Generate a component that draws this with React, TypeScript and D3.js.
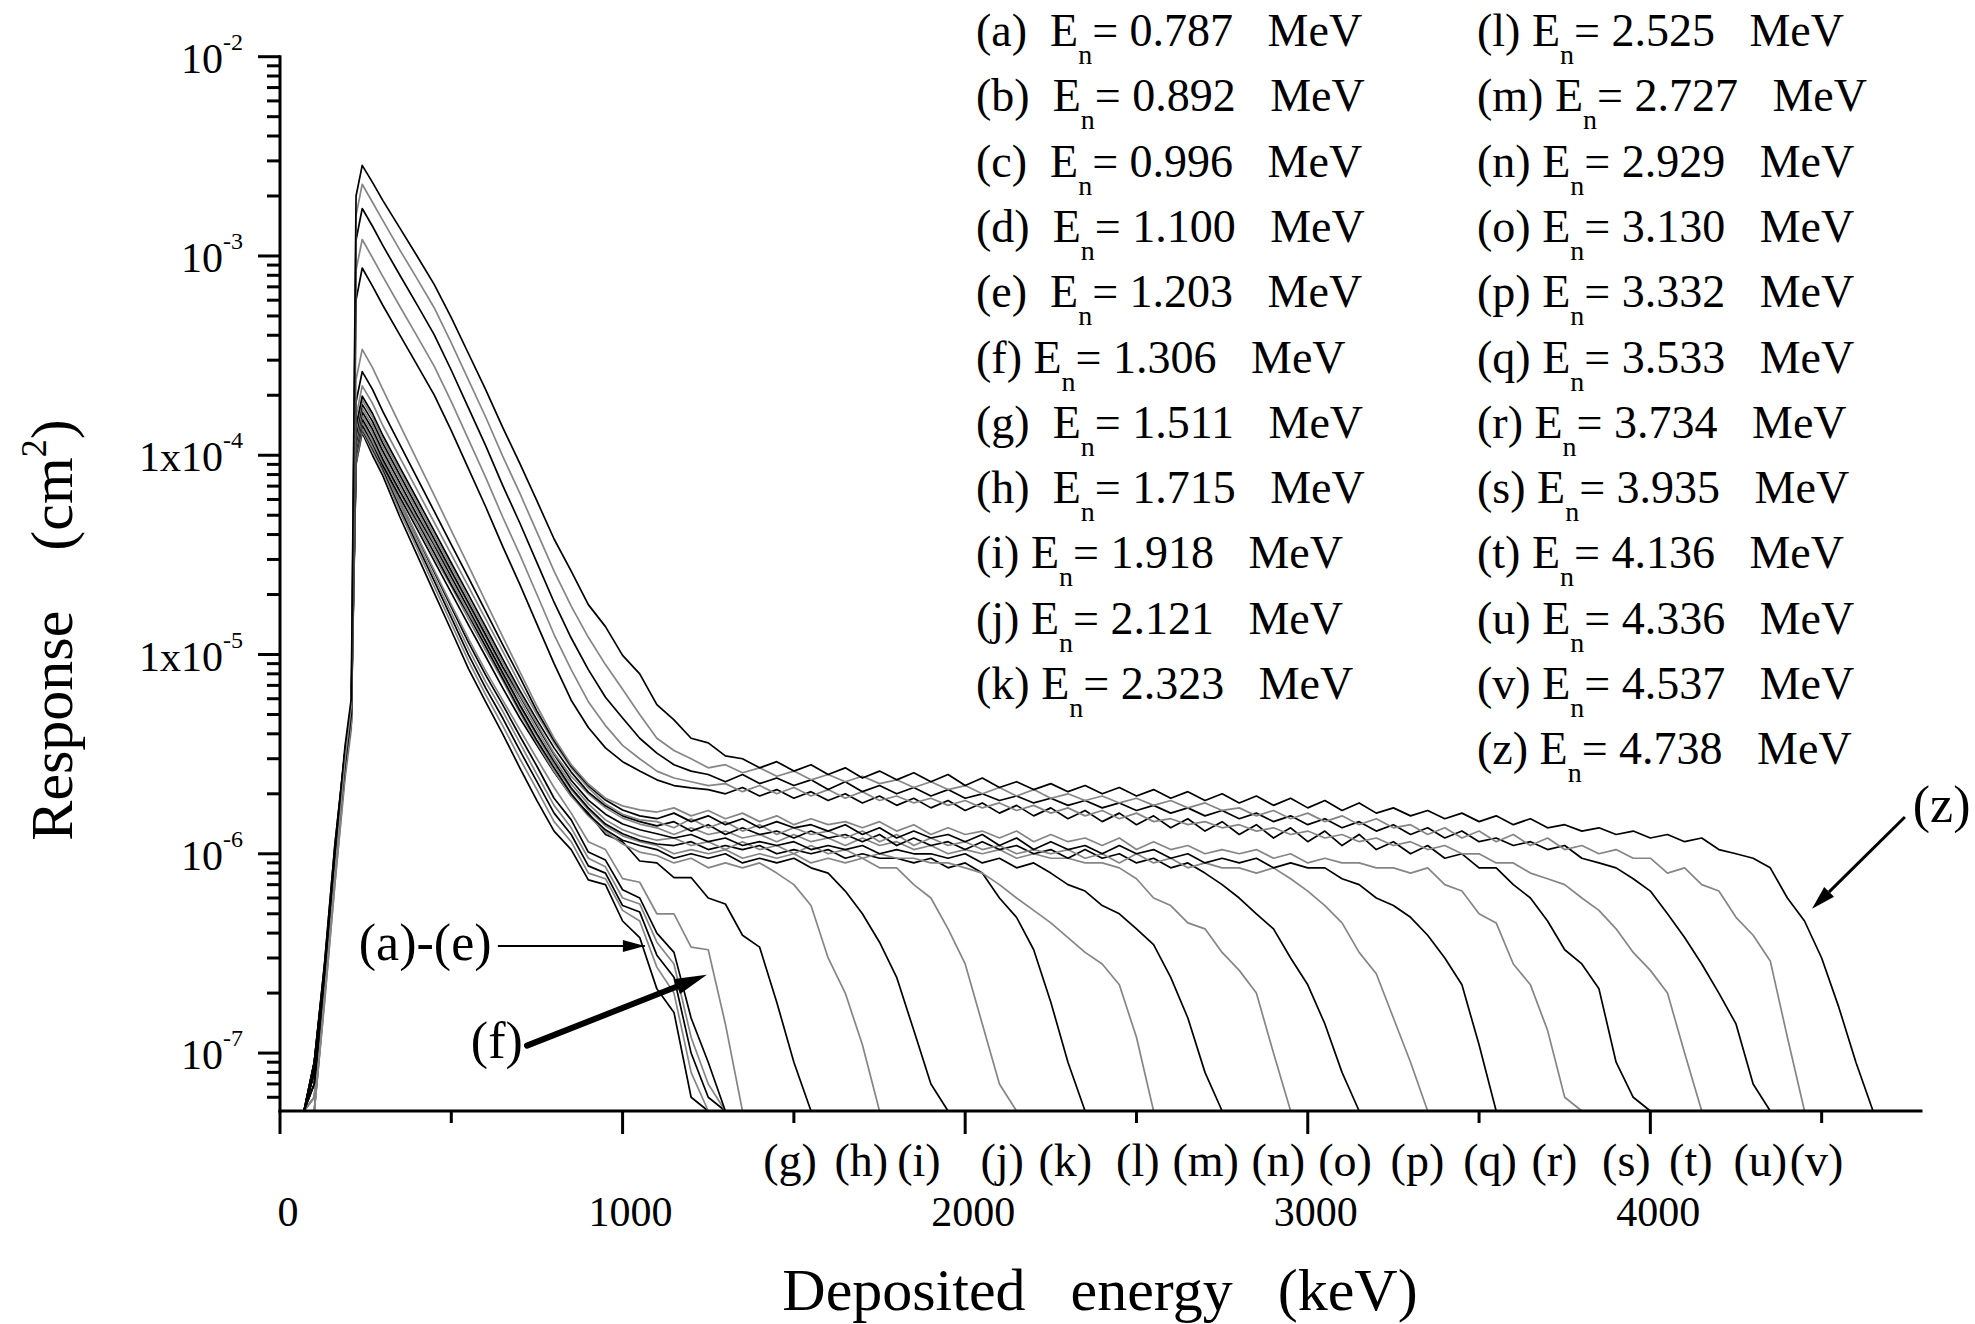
import React from "react";
import * as d3 from "d3";

// Response values below are in units of 1e-7 cm^2
const UNIT = 1e-7;

// Deposited-energy channels (keV) shared by every series
const ENERGY_KEV = [
  70, 100, 130, 160, 190, 208, 222, 240, 270,
  300, 350, 400, 450, 500, 550, 600, 650, 700, 750,
  800, 850, 900, 950, 1000, 1050, 1100, 1150, 1200, 1250,
  1300, 1350, 1400, 1450, 1500, 1550, 1600, 1650, 1700, 1750,
  1800, 1850, 1900, 1950, 2000, 2050, 2100, 2150, 2200, 2250,
  2300, 2350, 2400, 2450, 2500, 2550, 2600, 2650, 2700, 2750,
  2800, 2850, 2900, 2950, 3000, 3050, 3100, 3150, 3200, 3250,
  3300, 3350, 3400, 3450, 3500, 3550, 3600, 3650, 3700, 3750,
  3800, 3850, 3900, 3950, 4000, 4050, 4100, 4150, 4200, 4250,
  4300, 4350, 4400, 4450, 4500, 4550, 4600, 4650, 4700, 4750,
  4800,
];

const resp_a = [0, 0.9, 2.8, 11, 33, 55, 900, 1300, 1000,
  790, 490, 316, 204, 132, 85, 58, 40, 27, 18.5,
  13, 10.5, 7.4, 7, 4.6, 3.8, 2.1, 1.6, 0.6, 0];
const resp_b = [0, 0.6, 2.1, 8, 27, 46, 920, 1320, 1050,
  830, 520, 340, 220, 143, 93, 63, 44, 30, 21,
  14.5, 11.5, 8, 7.5, 5.2, 4.6, 2.7, 2, 0.8, 0];
const resp_c = [0, 0.9, 2.7, 10, 31, 52, 950, 1350, 1080,
  860, 545, 357, 234, 153, 100, 68, 48, 33, 23,
  16, 12.5, 8.7, 8, 5.5, 5.1, 3.1, 2.4, 1, 0.6,
  0];
const resp_d = [0, 0.5, 1.9, 7.5, 26, 45, 960, 1370, 1100,
  880, 565, 372, 245, 162, 107, 73, 52, 36, 25,
  17.5, 13.5, 9.5, 8.6, 6, 5.6, 3.6, 2.8, 1.2, 0.7,
  0];
const resp_e = [0, 0.8, 2.4, 9, 29, 50, 980, 1400, 1130,
  910, 590, 392, 260, 173, 115, 79, 56, 39, 27.5,
  19, 14.8, 10.2, 9.3, 6.6, 6, 4, 3.2, 1.5, 0.9,
  0];
const resp_f = [0, 0.6, 2, 8, 27, 46, 960, 1380, 1120,
  900, 590, 395, 265, 178, 120, 83, 59, 42, 30,
  21.5, 16, 11.5, 10.5, 7.5, 7.2, 5, 5, 3.4, 3.3,
  1.4, 0];
const resp_g = [0, 0.9, 2.6, 10, 32, 54, 1000, 1420, 1150,
  891, 617, 427, 295, 204, 141, 98, 68, 48, 35,
  25.7, 19.5, 16, 12.5, 11.5, 9.2, 9, 7.6, 7.6, 6,
  5.6, 3.9, 3.4, 1.8, 0.9, 0];
const resp_h = [0, 0.6, 2.1, 8, 27, 46, 1030, 1470, 1175,
  923, 646, 447, 309, 219, 151, 105, 74, 51, 36,
  26, 19.5, 15.5, 12.9, 11.2, 10.2, 9.8, 9, 9.5, 8.5,
  9, 8.5, 9, 8, 7, 5.5, 3, 2, 1.1, 0];
const resp_i = [0, 0.8, 2.5, 10, 31, 52, 1060, 1520, 1230,
  955, 661, 468, 324, 224, 158, 110, 76, 52.5, 37,
  27, 20, 15.8, 13.2, 11.7, 11, 10.5, 9.5, 10, 9.5,
  10, 9, 9.5, 9, 9.5, 8.5, 8, 6.5, 5, 3.6,
  2.4, 1.3, 0.7, 0];
const resp_j = [0, 0.5, 1.9, 7.5, 26, 45, 1100, 1580, 1290,
  1000, 692, 479, 339, 234, 162, 115, 79, 55, 39,
  28, 21, 16.6, 13.8, 12.3, 11.5, 11, 10, 10.5, 10,
  10.5, 9.5, 10, 9.5, 10, 9, 9.5, 9, 9.5, 8.5,
  8.5, 7, 6, 4.2, 2.8, 1.4, 0.7, 0];
const resp_k = [0, 0.7, 2.3, 9, 30, 50, 1150, 1650, 1350,
  1050, 725, 500, 355, 245, 170, 117, 81, 56, 40,
  29, 21.4, 17, 14.1, 12.6, 11.7, 11.2, 11, 11.5, 10.5,
  11, 10.5, 11, 10, 10.5, 10, 10.5, 9.5, 10, 9.5,
  9.5, 9, 9.5, 8.5, 9, 8, 6, 4.8, 3.3, 1.8,
  0.9, 0];
const resp_l = [0, 0.6, 2, 8, 27, 46, 1200, 1720, 1410,
  1100, 760, 525, 363, 257, 178, 123, 85, 59, 42,
  30, 22.4, 17.8, 14.8, 13.2, 12.3, 11.7, 12, 11, 11.5,
  10.5, 11.5, 10.5, 11, 10, 11, 10, 10.5, 9.5, 10,
  9.5, 9.5, 9, 9, 8.5, 8, 7, 6, 5.2, 4.5,
  3.8, 3.2, 2.8, 2.2, 1.2, 0];
const resp_m = [0, 0.8, 2.4, 9, 29, 50, 1260, 1800, 1480,
  1150, 795, 550, 380, 263, 182, 126, 87, 62, 44,
  31.6, 23.4, 18.6, 15.8, 14.1, 13.2, 12.6, 12, 12.5, 11.5,
  12, 11, 11.5, 11, 11.5, 10.5, 11, 10.5, 11, 10,
  10.5, 10, 10, 9.5, 10, 9, 9.5, 8.5, 9, 8,
  7, 6.5, 5.5, 5, 4.2, 3.5, 2.4, 1.5, 0.8, 0];
const resp_n = [0, 0.6, 2, 8, 28, 48, 1330, 1900, 1550,
  1200, 832, 575, 398, 275, 190, 132, 91, 63, 45,
  32, 24.5, 20, 17, 15.1, 14.1, 13.5, 12.5, 13.5, 12.5,
  13, 12, 12.5, 11.5, 12.5, 11.5, 12, 11, 12, 11,
  11.5, 10.5, 11, 10, 10.5, 10, 10.5, 9.5, 10, 9.5,
  9.5, 9, 9, 8.5, 7.5, 6, 5.5, 4.5, 4.2, 3.2,
  2.6, 2, 1, 0];
const resp_o = [0, 0.9, 2.8, 11, 33, 55, 1400, 1980, 1620,
  1260, 870, 603, 417, 288, 200, 138, 95, 66, 47,
  34, 25.7, 20.4, 17.4, 15.5, 14.5, 13.8, 14.5, 13, 14,
  12.5, 13.5, 12.5, 13, 12, 13, 12, 12.5, 11.5, 12.5,
  11, 12, 11, 11.5, 10.5, 11.5, 10.5, 11, 10, 10.5,
  9.5, 10.5, 9.5, 10, 9, 9.5, 8.5, 9, 8, 7,
  6, 5, 4.2, 3, 2.2, 1.4, 0.8, 0];
const resp_p = [0, 0.5, 1.8, 7, 24, 42, 1560, 2230, 1820,
  1410, 973, 670, 461, 318, 219, 151, 104, 71, 50,
  36, 27, 21.4, 17.8, 15.8, 14.8, 14.5, 13.5, 15, 13.5,
  14.5, 13, 14, 12.5, 13.5, 12.5, 13, 12, 13, 11.5,
  12.5, 11, 12, 11, 11.5, 10.5, 11, 10, 10.5, 10,
  10.5, 9.5, 10, 9, 10, 9, 9.5, 8.5, 9, 8.5,
  8.5, 8, 8.5, 7.5, 6.5, 5.5, 4.5, 3.2, 2.5, 1.5,
  0.9, 0];
const resp_q = [0, 0.8, 2.6, 10, 32, 50, 1850, 2630, 2140,
  1660, 1130, 770, 524, 356, 243, 165, 112, 77, 52,
  37, 27.5, 22, 18.6, 16.6, 15.5, 15, 16, 14.5, 15.5,
  14, 15, 13.5, 14.5, 13.5, 14, 13, 14, 12.5, 13.5,
  12, 13, 12, 12.5, 11.5, 12.5, 11, 12, 10.5, 11.5,
  10.5, 11, 10, 11, 10, 10.5, 9.5, 10, 9, 9.5,
  9, 9.5, 8.5, 9, 8.5, 8.5, 7.5, 7, 6, 5.5,
  4.8, 3.9, 3, 2.2, 1.1, 0];
const resp_r = [0, 0.6, 2.2, 9, 30, 50, 2400, 3400, 2750,
  2140, 1420, 946, 630, 419, 279, 185, 123, 82, 55,
  38, 28, 22.4, 19, 17.4, 16.6, 16.2, 17, 15.5, 16.5,
  15, 16, 14.5, 15.5, 14, 15, 14, 14.5, 13.5, 14.5,
  13, 14, 12.5, 13.5, 12.5, 13, 12, 13, 11.5, 12.5,
  11.5, 12, 11, 12, 10.5, 11.5, 10.5, 11, 10, 10.5,
  10, 10.5, 9.5, 10, 9, 9.5, 9, 9, 8.5, 8.5,
  8, 8.5, 7, 6.5, 5, 4.5, 2.8, 2.2, 1.3, 0.6,
  0];
const resp_s = [0, 0.7, 2, 8, 26, 45, 6000, 8700, 7060,
  5660, 4010, 2840, 2010, 1330, 857, 553, 349, 225, 142,
  90, 59, 43, 34, 29, 26, 23.5, 22, 21.4, 21,
  20, 21.5, 19.5, 21, 19, 20.5, 18.5, 20, 18, 19.5,
  17.5, 19, 17, 18.5, 16.5, 18, 16, 17.5, 15.5, 17,
  15, 16.5, 14.5, 16, 14, 15.5, 13.5, 15, 13, 14.5,
  12.5, 14, 12, 13.5, 11.5, 13, 11, 12.5, 10.5, 11.5,
  10, 11, 9.5, 10, 8.5, 8.5, 7, 6, 4.6, 3.3,
  2.8, 2.1, 0.9, 0.6, 0];
const resp_t = [0, 0.5, 1.8, 7, 25, 45, 8500, 12100, 9800,
  7900, 5580, 3960, 2800, 1860, 1200, 776, 490, 317, 200,
  126, 84, 58, 44, 35, 30, 26, 24, 23, 22,
  22.5, 20.5, 22, 20, 21.5, 19.5, 21, 19, 20.5, 18.5,
  19.5, 18, 19, 17.5, 18.5, 17, 18, 16.5, 17.5, 16,
  17, 15.5, 16.5, 15, 16, 14.5, 15, 14, 14.5, 13.5,
  14, 13, 13.5, 12.5, 13, 12, 12.5, 11.5, 12, 11,
  11.5, 10.5, 11, 10, 10, 9, 9, 8, 7.5, 7,
  6, 5.2, 4.2, 3.2, 2.6, 2, 1, 0];
const resp_u = [0, 0.8, 2.2, 9, 28, 50, 12000, 17300, 14100,
  11300, 8000, 5700, 4030, 2670, 1730, 1120, 706, 457, 289,
  183, 121, 84, 61, 48, 38, 32, 28, 26, 25,
  23, 25, 22.5, 24, 22, 23.5, 21, 23, 20.5, 22,
  20, 21.5, 19.5, 21, 19, 20, 18.5, 19.5, 18, 19,
  17.5, 18.5, 17, 18, 16.5, 17.5, 16, 17, 15.5, 16.5,
  15, 16, 14.5, 15.5, 14, 15, 13.5, 14.5, 13, 14,
  12.5, 13.5, 12, 13, 11.5, 12, 11, 11.5, 10.5, 11,
  9.5, 9, 8.5, 7.5, 6.5, 5, 3.8, 2.8, 2, 1.4,
  0.7, 0];
const resp_v = [0, 0.5, 2, 8, 30, 55, 16000, 22900, 18600,
  15100, 10700, 7700, 5500, 3660, 2390, 1560, 990, 645, 411,
  262, 175, 122, 89, 67, 50, 38, 33, 30, 27,
  28, 25.5, 27, 24.5, 26, 23.5, 25, 23, 24.5, 22.5,
  23.5, 21.5, 23, 21, 22, 20, 21.5, 19.5, 21, 19,
  20, 18.5, 19.5, 18, 19, 17.5, 18.5, 17, 18, 16.5,
  17, 15.5, 16.5, 15, 16, 14.5, 15.5, 14, 15, 13.5,
  14, 12.5, 13.5, 12, 13, 11.5, 12.5, 11, 12, 10.5,
  11, 10, 10.5, 9.5, 9.5, 8, 8.5, 7, 6.5, 4.8,
  3.9, 2.9, 1.2, 0.5, 0];
const resp_z = [0, 0.7, 2.5, 10, 35, 60, 20000, 28500, 23400,
  19000, 13800, 10000, 7200, 4900, 3240, 2140, 1380, 910, 590,
  380, 262, 178, 138, 99, 80, 56, 47, 38, 36,
  31, 30, 27, 29, 26, 28, 25, 27, 24, 26,
  23.5, 25.5, 23, 25, 22, 24, 21.5, 23, 21, 22.5,
  20.5, 22, 20, 21.5, 19.5, 21, 19, 20.5, 18.5, 20,
  18, 19.5, 17.5, 19, 17, 18.5, 16.5, 18, 16, 17,
  15.5, 16.5, 15, 16, 14.5, 15.5, 14, 15, 13.5, 14,
  13, 13.5, 12.5, 13, 12, 12.5, 11.5, 12, 10.5, 10,
  9.5, 8.5, 6, 4.6, 3, 1.7, 0.9, 0];

const SERIES_KEYS = ["a", "b", "c", "d", "e", "f", "g", "h", "i", "j", "k",
  "l", "m", "n", "o", "p", "q", "r", "s", "t", "u", "v", "z"];
const SERIES_VALUES = [resp_a, resp_b, resp_c, resp_d, resp_e, resp_f, resp_g,
  resp_h, resp_i, resp_j, resp_k, resp_l, resp_m, resp_n, resp_o, resp_p,
  resp_q, resp_r, resp_s, resp_t, resp_u, resp_v, resp_z];
const EN_MEV = ["0.787", "0.892", "0.996", "1.100", "1.203", "1.306", "1.511",
  "1.715", "1.918", "2.121", "2.323", "2.525", "2.727", "2.929", "3.130",
  "3.332", "3.533", "3.734", "3.935", "4.136", "4.336", "4.537", "4.738"];
// spaces between "(x)" and "E" as typed in the legend
const LEGEND_GAP = [2, 2, 2, 2, 2, 1, 2, 2, 1, 1, 1,
  1, 1, 1, 1, 1, 1, 1, 1, 1, 1, 1, 1];

const X_TICKS = [0, 1000, 2000, 3000, 4000];
const X_MINOR = [500, 1500, 2500, 3500, 4500];
const Y_TICKS = [1e-2, 1e-3, 1e-4, 1e-5, 1e-6, 1e-7];
const Y_TICK_BASE = ["10", "10", "1x10", "1x10", "10", "10"];
const Y_TICK_EXP = ["-2", "-3", "-4", "-5", "-6", "-7"];

const END_LABELS = ["g", "h", "i", "j", "k", "l", "m", "n", "o", "p", "q",
  "r", "s", "t", "u", "v"];
const END_LABEL_KEV = [1489, 1697, 1865, 2108, 2292, 2504, 2702, 2914, 3109,
  3320, 3532, 3720, 3930, 4118, 4321, 4485];

const FONT = "'Liberation Serif', 'Times New Roman', Times, serif";
const BLACK = "#000000";
const GRAY = "#858585";

export default function App() {
  const W = 1975, H = 1324;
  const left = 280, right = 1921, top = 56.7, bottom = 1111;
  const x = d3.scaleLinear().domain([0, 4790]).range([left, right]);
  const y = d3.scaleLog().domain([5.12e-8, 1e-2]).range([bottom, top]);
  const yOf = (u: number) => (u <= 0 ? bottom : Math.min(bottom, y(u * UNIT)));

  const line = d3
    .line<number>()
    .x((_, i) => x(ENERGY_KEV[i]))
    .y((d) => yOf(d));

  const yMinor: number[] = [];
  for (let e = -8; e <= -3; e++) {
    for (let m = 2; m <= 9; m++) {
      const v = m * Math.pow(10, e);
      if (v >= 5.12e-8 && v < 1e-2) yMinor.push(v);
    }
  }

  const arrowHead = (x1: number, y1: number, x2: number, y2: number, len: number, half: number) => {
    const dx = x2 - x1, dy = y2 - y1;
    const L = Math.hypot(dx, dy);
    const ux = dx / L, uy = dy / L;
    const bx = x2 - ux * len, by = y2 - uy * len;
    const px = -uy * half, py = ux * half;
    return { bx, by, pts: `${x2},${y2} ${bx + px},${by + py} ${bx - px},${by - py}` };
  };

  // annotation anchors in data units
  const aeStart = [636, 3.45e-7], aeTip = [1065, 3.45e-7];
  const fStart = [721, 1.09e-7], fTip = [1246, 2.47e-7];
  const zStart = [4743, 1.53e-6], zTip = [4472, 5.3e-7];

  const ae1 = [x(aeStart[0]), y(aeStart[1])], ae2 = [x(aeTip[0]), y(aeTip[1])];
  const f1 = [x(fStart[0]), y(fStart[1])], f2 = [x(fTip[0]), y(fTip[1])];
  const z1 = [x(zStart[0]), y(zStart[1])], z2 = [x(zTip[0]), y(zTip[1])];
  const fHead = arrowHead(f1[0], f1[1], f2[0], f2[1], 32, 8);
  const zHead = arrowHead(z1[0], z1[1], z2[0], z2[1], 24, 7);
  const aeHead = arrowHead(ae1[0], ae1[1], ae2[0], ae2[1], 22, 6);

  const legendRow = 65.3;
  return (
    <svg
      width={W}
      height={H}
      style={{ position: "absolute", left: 0, top: 0, background: "#fff" }}
      fontFamily={FONT}
    >
      <rect x={0} y={0} width={W} height={H} fill="#fff" />
      <g fill="none" strokeLinejoin="round">
        {SERIES_VALUES.map((vals, i) => (
          <path
            key={SERIES_KEYS[i]}
            d={line(vals) || ""}
            stroke={i % 2 === 0 ? BLACK : GRAY}
            strokeWidth={1.7}
          />
        ))}
      </g>

      {/* axes */}
      <g stroke="#000" strokeWidth={3}>
        <line x1={left} y1={top} x2={left} y2={bottom} strokeLinecap="square" />
        <line x1={left} y1={bottom} x2={right} y2={bottom} strokeLinecap="square" />
        {Y_TICKS.map((t) => (
          <line key={"ym" + t} x1={left - 22} x2={left} y1={y(t)} y2={y(t)} />
        ))}
        {yMinor.map((t) => (
          <line key={"yn" + t} x1={left - 13} x2={left} y1={y(t)} y2={y(t)} />
        ))}
        {X_TICKS.map((t) => (
          <line key={"xm" + t} x1={x(t)} x2={x(t)} y1={bottom} y2={bottom + 23} />
        ))}
        {X_MINOR.map((t) => (
          <line key={"xn" + t} x1={x(t)} x2={x(t)} y1={bottom} y2={bottom + 12} />
        ))}
      </g>

      {/* y tick labels */}
      {Y_TICKS.map((t, i) => (
        <text key={"yl" + t} x={243} y={y(t) + 16} fontSize={42} textAnchor="end">
          {Y_TICK_BASE[i]}
          <tspan fontSize={24} dy={-23}>{Y_TICK_EXP[i]}</tspan>
        </text>
      ))}

      {/* x tick labels */}
      {X_TICKS.map((t) => (
        <text key={"xl" + t} x={x(t) + 8} y={1226} fontSize={42} textAnchor="middle">
          {t}
        </text>
      ))}

      {/* end-point labels below axis */}
      {END_LABELS.map((l, i) => (
        <text key={"el" + l} x={x(END_LABEL_KEV[i])} y={1176} fontSize={46} textAnchor="middle">
          ({l})
        </text>
      ))}

      {/* axis titles */}
      <text x={1100} y={1310} fontSize={60} textAnchor="middle" style={{ whiteSpace: "pre" }}>
        {"Deposited   energy   (keV)"}
      </text>
      <text
        transform={`translate(72, 630) rotate(-90)`}
        fontSize={60}
        textAnchor="middle"
        style={{ whiteSpace: "pre" }}
      >
        {"Response    (cm"}
        <tspan fontSize={36} dy={-26}>2</tspan>
        <tspan dy={26}>)</tspan>
      </text>

      {/* legend */}
      {SERIES_KEYS.map((k, i) => {
        const col = i < 11 ? 0 : 1;
        const row = i < 11 ? i : i - 11;
        const lx = col === 0 ? 976 : 1477;
        const ly = 46 + row * legendRow;
        return (
          <text key={"lg" + k} x={lx} y={ly} fontSize={46} style={{ whiteSpace: "pre" }}>
            {`(${k})${" ".repeat(LEGEND_GAP[i])}E`}
            <tspan fontSize={28} dy={18}>n</tspan>
            <tspan dy={-18}>{`= ${EN_MEV[i]}   MeV`}</tspan>
          </text>
        );
      })}

      {/* annotations */}
      <text x={x(230)} y={y(2.94e-7)} fontSize={52}>(a)-(e)</text>
      <line x1={ae1[0]} y1={ae1[1]} x2={ae2[0]} y2={ae2[1]} stroke="#000" strokeWidth={2} />
      <polygon points={aeHead.pts} fill="#000" />

      <text x={x(557)} y={y(9.46e-8)} fontSize={52}>(f)</text>
      <line x1={f1[0]} y1={f1[1]} x2={fHead.bx} y2={fHead.by} stroke="#000" strokeWidth={6} strokeLinecap="round" />
      <polygon points={fHead.pts} fill="#000" />

      <text x={x(4766)} y={y(1.45e-6)} fontSize={52}>(z)</text>
      <line x1={z1[0]} y1={z1[1]} x2={zHead.bx} y2={zHead.by} stroke="#000" strokeWidth={3} />
      <polygon points={zHead.pts} fill="#000" />
    </svg>
  );
}
